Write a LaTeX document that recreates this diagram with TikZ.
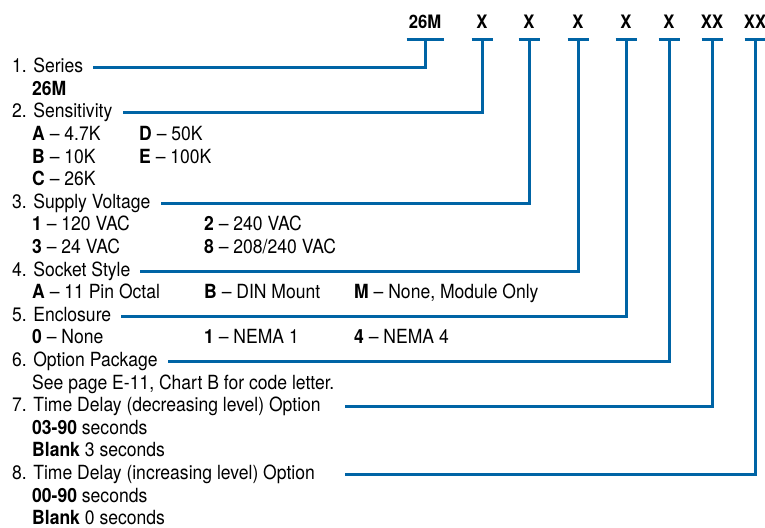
\documentclass[tikz,border=0pt]{standalone}
\usepackage{fontspec}
\setmainfont[FakeStretch=0.9]{TeX Gyre Heros}
\usepackage{tikz}
\definecolor{leadblue}{RGB}{0,100,165}

\begin{document}
\begin{tikzpicture}[x=1pt, y=-1pt]
    \tikzstyle{codetext} = [anchor=base, inner sep=0pt, font=\fontsize{18.5}{20}\selectfont\bfseries]
    \tikzstyle{itemtext} = [anchor=base west, inner sep=0pt, font=\fontsize{19.5}{22}\selectfont]
    \tikzstyle{leadline} = [draw=leadblue, line width=3pt]
    \useasboundingbox (0,0) rectangle (765,527);

    % model code header with its T bars
    \foreach \code/\cx/\bw [count=\i] in {26M/425/18.5, X/482/10.5, X/529/10.5, X/578/10.5, X/626/10.5, X/669/10.5, XX/712/10.5, XX/755/10.5} {
        \node (h\i) [codetext] at (\cx,29) {\code};
        \coordinate (t\i) at (\cx,40);
        \draw[leadline] ([xshift=-\bw pt]t\i) -- ([xshift=\bw pt]t\i);
    }

    % items
    \node (s1) [itemtext] at (12,72.7) {1. Series};
    \node (s1a) [itemtext] at (32,95.3) {\textbf{26M}};
    \node (s2) [itemtext] at (12,117.9) {2. Sensitivity};
    \node (s2a) [itemtext] at (32,140.5) {\textbf{A} -- 4.7K};
    \node (s2d) [itemtext] at (139,140.5) {\textbf{D} -- 50K};
    \node (s2b) [itemtext] at (32,163.1) {\textbf{B} -- 10K};
    \node (s2e) [itemtext] at (139,163.1) {\textbf{E} -- 100K};
    \node (s2c) [itemtext] at (32,185.7) {\textbf{C} -- 26K};
    \node (s3) [itemtext] at (12,208.3) {3. Supply Voltage};
    \node (s3a) [itemtext] at (32,230.9) {\textbf{1} -- 120 VAC};
    \node (s3b) [itemtext] at (204,230.9) {\textbf{2} -- 240 VAC};
    \node (s3c) [itemtext] at (32,253.5) {\textbf{3} -- 24 VAC};
    \node (s3d) [itemtext] at (204,253.5) {\textbf{8} -- 208/240 VAC};
    \node (s4) [itemtext] at (12,276.1) {4. Socket Style};
    \node (s4a) [itemtext] at (32,298.7) {\textbf{A} -- 11 Pin Octal};
    \node (s4b) [itemtext] at (204,298.7) {\textbf{B} -- DIN Mount};
    \node (s4m) [itemtext] at (354,298.7) {\textbf{M} -- None, Module Only};
    \node (s5) [itemtext] at (12,321.3) {5. Enclosure};
    \node (s5a) [itemtext] at (32,343.9) {\textbf{0} -- None};
    \node (s5b) [itemtext] at (204,343.9) {\textbf{1} -- NEMA 1};
    \node (s5c) [itemtext] at (354,343.9) {\textbf{4} -- NEMA 4};
    \node (s6) [itemtext] at (12,366.5) {6. Option Package};
    \node (s6a) [itemtext] at (32,389.1) {See page E-11, Chart B for code letter.};
    \node (s7) [itemtext] at (12,411.7) {7. Time Delay (decreasing level) Option};
    \node (s7a) [itemtext] at (32,434.3) {\textbf{03-90} seconds};
    \node (s7b) [itemtext] at (32,456.9) {\textbf{Blank} 3 seconds};
    \node (s8) [itemtext] at (12,479.5) {8. Time Delay (increasing level) Option};
    \node (s8a) [itemtext] at (32,502.1) {\textbf{00-90} seconds};
    \node (s8b) [itemtext] at (32,524.2) {\textbf{Blank} 0 seconds};

    % leads from the code to each item
    \foreach \i in {1,...,6} {
        \coordinate (e\i) at ([xshift=10pt, yshift=5pt]s\i.base east);
        \draw[leadline] (t\i) |- (e\i);
    }
    \coordinate (gate) at (345,0);
    \foreach \i in {7,8} {
        \coordinate (e\i) at ([yshift=5pt]s\i.base east);
        \draw[leadline] (t\i) |- (gate |- e\i);
    }
\end{tikzpicture}
\end{document}
